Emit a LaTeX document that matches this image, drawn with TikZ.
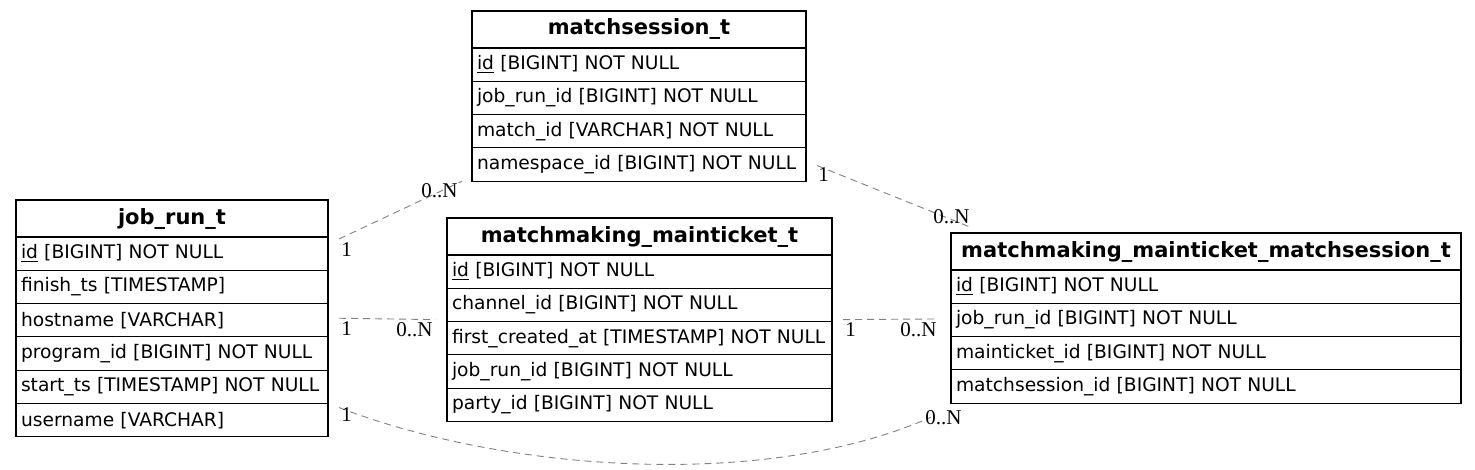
\documentclass[tikz,border=0pt]{standalone}
\usepackage{fontspec}
\setmainfont{DejaVu Sans}
\newfontfamily\cardfont{Liberation Serif}
\usetikzlibrary{positioning,calc}

\tikzset{
  tblhead/.style={draw, line width=0.55pt, outer sep=0pt, inner xsep=2.5pt, inner ysep=0pt,
    minimum height=18.5pt, text width=#1, align=center, anchor=north west,
    font=\fontsize{10.5}{12}\selectfont\bfseries},
  tblrow/.style={draw, line width=0.55pt, outer sep=0pt, inner xsep=2.5pt, inner ysep=0pt,
    minimum height=16.65pt, text width=#1, align=left,
    font=\fontsize{9.33}{11}\selectfont},
  rel/.style={draw=gray, line width=0.45pt, dash pattern=on 3.5pt off 2.5pt},
  card/.style={inner sep=0pt, font=\cardfont\fontsize{10.5}{12}\selectfont},
}

\begin{document}
\begin{tikzpicture}[x=0.5pt, y=-0.5pt]
                        \useasboundingbox (0,0) rectangle (1475,470);

                        % Table job_run_t
                        \node[tblhead=151pt] (jr0) at (16,200) {job\_run\_t};%
                        \node[tblrow=151pt, below=0pt of jr0] (jr1) {\underline{id} [BIGINT] NOT NULL};%
                        \node[tblrow=151pt, below=0pt of jr1] (jr2) {finish\_ts [TIMESTAMP]};%
                        \node[tblrow=151pt, below=0pt of jr2] (jr3) {hostname [VARCHAR]};%
                        \node[tblrow=151pt, below=0pt of jr3] (jr4) {program\_id [BIGINT] NOT NULL};%
                        \node[tblrow=151pt, below=0pt of jr4] (jr5) {start\_ts [TIMESTAMP] NOT NULL};%
                        \node[tblrow=151pt, below=0pt of jr5] (jr6) {username [VARCHAR]};%

                        % Table matchsession_t
                        \node[tblhead=162pt] (ms0) at (472,11) {matchsession\_t};%
                        \node[tblrow=162pt, below=0pt of ms0] (ms1) {\underline{id} [BIGINT] NOT NULL};%
                        \node[tblrow=162pt, below=0pt of ms1] (ms2) {job\_run\_id [BIGINT] NOT NULL};%
                        \node[tblrow=162pt, below=0pt of ms2] (ms3) {match\_id [VARCHAR] NOT NULL};%
                        \node[tblrow=162pt, below=0pt of ms3] (ms4) {namespace\_id [BIGINT] NOT NULL};%

                        % Table matchmaking_mainticket_t
                        \node[tblhead=187.5pt] (mt0) at (447,218) {matchmaking\_mainticket\_t};%
                        \node[tblrow=187.5pt, below=0pt of mt0] (mt1) {\underline{id} [BIGINT] NOT NULL};%
                        \node[tblrow=187.5pt, below=0pt of mt1] (mt2) {channel\_id [BIGINT] NOT NULL};%
                        \node[tblrow=187.5pt, below=0pt of mt2] (mt3) {first\_created\_at [TIMESTAMP] NOT NULL};%
                        \node[tblrow=187.5pt, below=0pt of mt3] (mt4) {job\_run\_id [BIGINT] NOT NULL};%
                        \node[tblrow=187.5pt, below=0pt of mt4] (mt5) {party\_id [BIGINT] NOT NULL};%

                        % Table matchmaking_mainticket_matchsession_t
                        \node[tblhead=250pt] (mm0) at (951,233) {matchmaking\_mainticket\_matchsession\_t};%
                        \node[tblrow=250pt, below=0pt of mm0] (mm1) {\underline{id} [BIGINT] NOT NULL};%
                        \node[tblrow=250pt, below=0pt of mm1] (mm2) {job\_run\_id [BIGINT] NOT NULL};%
                        \node[tblrow=250pt, below=0pt of mm2] (mm3) {mainticket\_id [BIGINT] NOT NULL};%
                        \node[tblrow=250pt, below=0pt of mm3] (mm4) {matchsession\_id [BIGINT] NOT NULL};%

                        % Relation job_run_t -- matchsession_t
                        \coordinate (a1) at ($(jr1.north east)+(11,2)$);%
                        \coordinate (a2) at ($(ms4.south west)+(-10,0)$);%
                        \draw[rel] (a1) -- (a2);%
                        \node[card, anchor=north west] (a1l) at ($(a1)+(2,3)$) {1};%
                        \node[card, anchor=north east] (a2l) at ($(a2)+(-4,2)$) {0..N};%

                        % Relation job_run_t -- matchmaking_mainticket_t
                        \coordinate (b1) at ($(jr3.east)+(11,-2)$);%
                        \coordinate (b2) at ($(mt2.south west)+(-12,-2)$);%
                        \draw[rel] (b1) -- (b2);%
                        \node[card, anchor=north west] (b1l) at ($(b1)+(2,3)$) {1};%
                        \node[card, anchor=north east] (b2l) at ($(b2)+(-2,3)$) {0..N};%

                        % Relation matchsession_t -- matchmaking_mainticket_matchsession_t
                        \coordinate (c1) at ($(ms4.east)+(11,1)$);%
                        \coordinate (c2) at ($(mm0.north west)+(19,-6)$);%
                        \draw[rel] (c1) -- (c2);%
                        \node[card, anchor=north west] (c1l) at ($(c1)+(1,2)$) {1};%
                        \node[card, anchor=south east] (c2l) at ($(c2)+(0,-3)$) {0..N};%

                        % Relation matchmaking_mainticket_t -- matchmaking_mainticket_matchsession_t
                        \coordinate (d1) at ($(mt2.south east)+(11,-2)$);%
                        \coordinate (d2) at ($(mm2.west)+(-13,-1)$);%
                        \draw[rel] (d1) -- (d2);%
                        \node[card, anchor=north west] (d1l) at ($(d1)+(2,3)$) {1};%
                        \node[card, anchor=north east] (d2l) at ($(d2)+(-1,3)$) {0..N};%

                        % Relation job_run_t -- matchmaking_mainticket_matchsession_t
                        \coordinate (e1) at ($(jr6.north east)+(11,4)$);%
                        \coordinate (e2) at ($(mm4.south west)+(-20,14)$);%
                        \draw[rel] (e1) .. controls +(160,62) and +(-170,75) .. (e2);%
                        \node[card, anchor=north west] (e1l) at ($(e1)+(2,0)$) {1};%
                        \node[card, anchor=north west] (e2l) at ($(e2)+(-6,-7)$) {0..N};%
\end{tikzpicture}
\end{document}
